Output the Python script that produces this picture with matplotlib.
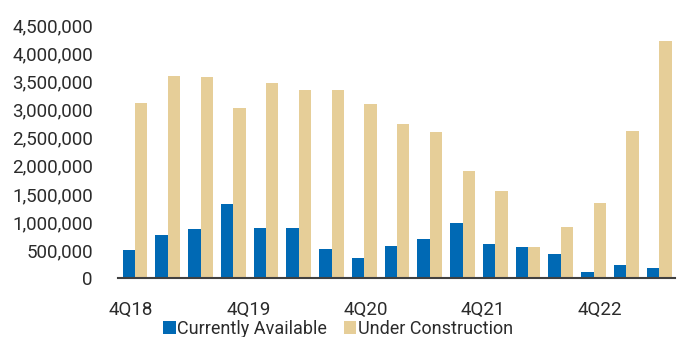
import matplotlib
matplotlib.use("Agg")
import matplotlib.pyplot as plt
import numpy as np
from matplotlib.ticker import FuncFormatter

QUARTERS = ["4Q18", "1Q19", "2Q19", "3Q19", "4Q19", "1Q20", "2Q20", "3Q20", "4Q20",
            "1Q21", "2Q21", "3Q21", "4Q21", "1Q22", "2Q22", "3Q22", "4Q22"]
CURRENTLY_AVAILABLE = [505_000, 766_000, 872_000, 1_321_000, 895_000, 895_000, 528_000, 372_000,
                       573_000, 709_000, 993_000, 608_000, 555_000, 431_000, 112_000, 248_000, 188_000]
UNDER_CONSTRUCTION = [3_112_000, 3_603_000, 3_578_000, 3_035_000, 3_479_000, 3_348_000, 3_348_000,
                      3_090_000, 2_736_000, 2_594_000, 1_902_000, 1_548_000, 560_000, 915_000,
                      1_340_000, 2_624_000, 4_220_000]
TICK_LABELS = ["4Q18", "4Q19", "4Q20", "4Q21", "4Q22"]

BLUE = "#0069b4"
TAN = "#e6ce98"
TEXT = "#2b2b2b"

plt.rcParams["font.family"] = ["Roboto", "DejaVu Sans"]

fig = plt.figure(figsize=(6.84, 3.37), dpi=100)
ax = fig.add_axes([0.1725, 0.1736, 0.8145, 0.7522])

x = np.arange(len(QUARTERS))
width = 0.38
ax.bar(x - width / 2, CURRENTLY_AVAILABLE, width=width, color=BLUE, label="Currently Available")
ax.bar(x + width / 2, UNDER_CONSTRUCTION, width=width, color=TAN, label="Under Construction")

ax.set_xlim(-0.52, 16.49)
ax.set_ylim(0, 4_500_000)
ax.set_yticks(np.arange(0, 4_500_001, 500_000))
ax.yaxis.set_major_formatter(FuncFormatter(lambda v, _: f"{int(v):,}"))

# category labels in the source sit between groups, spaced ~3.58 groups apart
ax.set_xticks(np.linspace(-0.12, 14.2, len(TICK_LABELS)))
ax.set_xticklabels(TICK_LABELS)

for side in ["top", "right", "left"]:
    ax.spines[side].set_visible(False)
ax.spines["bottom"].set_color("#404040")
ax.spines["bottom"].set_linewidth(1.5)
ax.tick_params(axis="both", length=0, labelsize=13.5, colors=TEXT)
ax.tick_params(axis="x", pad=16)
ax.tick_params(axis="y", pad=18)

leg = ax.legend(loc="upper center", bbox_to_anchor=(0.395, -0.135), ncol=2, frameon=False,
                fontsize=13, handlelength=0.7, handleheight=0.7, handletextpad=0.1,
                columnspacing=0.9, borderaxespad=0)
for t in leg.get_texts():
    t.set_color(TEXT)

fig.savefig("out.png", dpi=100)
